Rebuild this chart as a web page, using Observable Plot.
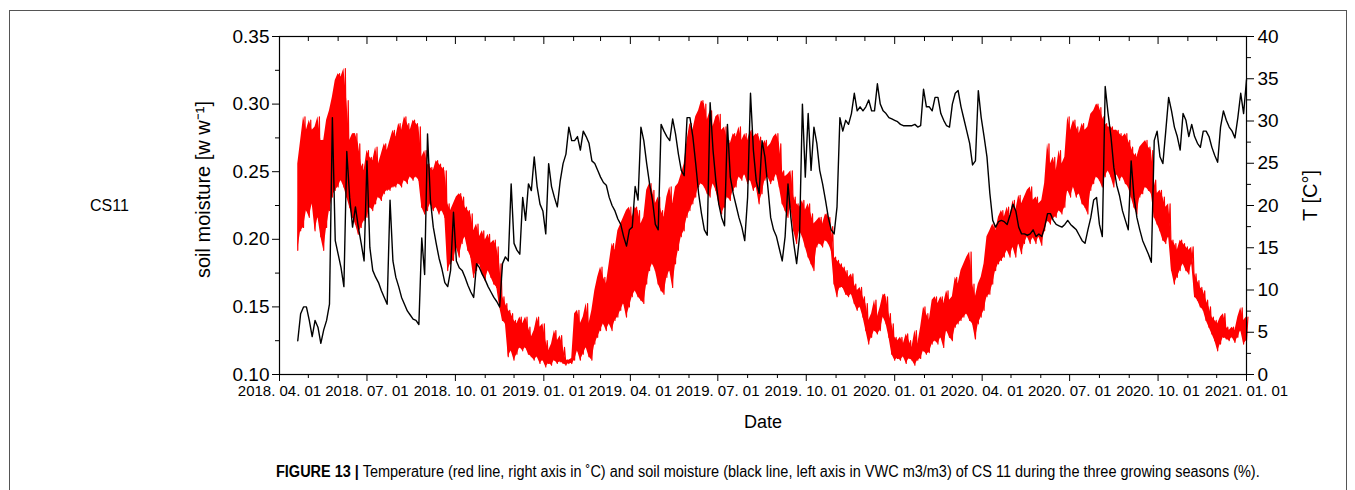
<!DOCTYPE html>
<html>
<head>
<meta charset="utf-8">
<script src="https://cdn.jsdelivr.net/npm/d3@7"></script>
<script src="https://cdn.jsdelivr.net/npm/@observablehq/plot@0.6"></script>
<style>
  body { margin: 0; background: #fff; }
  #fig { position: relative; width: 1355px; height: 490px; overflow: hidden; background: #fff;
         font-family: "Liberation Sans", Arial, sans-serif; color: #000; }
  #box { position: absolute; left: 9px; top: 10px; width: 1336px; height: 520px; border: 1px solid #555; }
  #chart { position: absolute; left: 0; top: 0; }
  #site { position: absolute; left: 90px; top: 197px; font-size: 16px; }
  #caption { position: absolute; left: 276px; top: 463px; white-space: nowrap;
             font-family: "Liberation Sans", Arial, sans-serif; font-size: 16px;
             transform: scaleX(0.905); transform-origin: 0 0; }
  #caption b { font-weight: bold; }
</style>
</head>
<body>
<div id="fig">
  <div id="box"></div>
  <div id="chart"></div>
  <div id="site">CS11</div>
  <div id="caption"><b>FIGURE 13 |</b> Temperature (red line, right axis in ˚C) and soil moisture (black line, left axis in VWC m3/m3) of CS 11 during the three growing seasons (%).</div>
</div>
<script>
// Series are sampled every 3 days starting 2018-04-20.
const seriesStart = "2018-04-20";
const stepDays = 3;

// Soil moisture [w w-1]
const moisture = [
  0.125,0.145,0.150,0.150,0.140,0.128,0.140,0.135,0.123,0.133,
  0.140,0.152,0.290,0.199,0.189,0.179,0.165,0.265,0.231,0.209,
  0.224,0.209,0.197,0.184,0.258,0.194,0.177,0.172,0.168,0.162,
  0.157,0.152,0.229,0.184,0.172,0.165,0.157,0.152,0.147,0.144,
  0.141,0.140,0.137,0.201,0.174,0.278,0.229,0.209,0.197,0.186,
  0.178,0.168,0.165,0.177,0.220,0.184,0.179,0.177,0.172,0.166,
  0.161,0.157,0.182,0.179,0.174,0.170,0.165,0.161,0.157,0.154,
  0.150,0.182,0.187,0.184,0.241,0.197,0.192,0.189,0.231,0.214,
  0.241,0.236,0.261,0.239,0.226,0.221,0.204,0.256,0.239,0.231,
  0.224,0.243,0.256,0.263,0.283,0.273,0.273,0.276,0.266,0.280,
  0.276,0.271,0.258,0.256,0.251,0.246,0.242,0.240,0.231,0.225,
  0.221,0.215,0.211,0.202,0.195,0.207,0.209,0.239,0.229,0.283,
  0.273,0.256,0.241,0.229,0.211,0.207,0.285,0.280,0.276,0.273,
  0.289,0.278,0.263,0.251,0.247,0.290,0.290,0.276,0.256,0.234,
  0.219,0.207,0.203,0.301,0.266,0.243,0.226,0.216,0.210,0.285,
  0.246,0.234,0.225,0.216,0.209,0.199,0.231,0.308,0.266,0.243,
  0.234,0.273,0.261,0.239,0.216,0.207,0.202,0.193,0.184,0.202,
  0.241,0.216,0.197,0.182,0.202,0.300,0.246,0.293,0.251,0.283,
  0.271,0.251,0.241,0.229,0.216,0.207,0.204,0.224,0.290,0.280,
  0.288,0.285,0.293,0.308,0.295,0.298,0.295,0.298,0.303,0.295,
  0.295,0.315,0.300,0.295,0.293,0.290,0.289,0.288,0.287,0.285,
  0.284,0.284,0.284,0.284,0.285,0.283,0.284,0.311,0.298,0.298,
  0.295,0.305,0.305,0.293,0.288,0.284,0.283,0.300,0.308,0.310,
  0.298,0.289,0.280,0.271,0.255,0.258,0.310,0.290,0.276,0.261,
  0.234,0.214,0.209,0.213,0.214,0.213,0.211,0.218,0.226,0.221,
  0.209,0.204,0.204,0.203,0.204,0.207,0.202,0.204,0.202,0.209,
  0.219,0.219,0.214,0.211,0.210,0.209,0.211,0.214,0.211,0.209,
  0.207,0.203,0.199,0.197,0.207,0.216,0.229,0.231,0.211,0.202,
  0.313,0.293,0.276,0.253,0.240,0.232,0.221,0.214,0.207,0.258,
  0.231,0.216,0.207,0.199,0.194,0.189,0.183,0.273,0.280,0.261,
  0.256,0.280,0.305,0.295,0.283,0.276,0.266,0.293,0.288,0.276,
  0.285,0.276,0.271,0.268,0.280,0.280,0.276,0.268,0.262,0.257,
  0.283,0.295,0.288,0.283,0.280,0.275,0.290,0.308,0.293,0.318
];

// Temperature [°C]: daily low and high within each 3-day step
const tempLow = [
  14.7,17.0,17.4,19.4,18.6,20.2,17.0,18.6,16.3,14.7,
  17.4,19.4,21.0,21.8,22.2,23.0,22.2,21.0,19.8,18.6,
  17.8,16.6,17.4,18.2,18.6,19.8,19.4,20.2,21.0,20.6,
  21.4,21.8,21.8,22.2,22.2,22.6,22.2,23.0,22.6,23.4,
  23.0,23.4,23.0,19.8,19.0,19.4,20.2,19.4,19.8,19.0,
  19.4,18.6,12.3,13.1,13.5,15.1,13.9,15.5,16.3,14.7,
  13.9,11.5,12.3,13.1,11.9,11.1,12.3,11.5,10.7,10.3,
  8.0,6.4,6.0,2.1,2.8,1.7,2.4,3.2,2.8,3.2,
  2.4,2.1,1.7,2.1,1.3,1.7,0.9,1.3,1.1,1.7,
  1.3,1.5,1.3,1.1,1.3,1.3,1.7,2.8,1.7,2.4,
  3.2,2.1,1.7,3.6,4.4,5.2,6.0,5.2,6.0,5.2,
  6.4,6.8,7.6,8.4,6.8,8.0,9.2,9.9,9.2,8.8,
  8.4,10.7,12.3,13.1,12.3,10.7,9.9,9.5,11.5,12.3,
  10.3,13.1,14.7,16.3,17.0,18.6,19.4,20.2,21.0,22.2,
  22.6,22.2,21.4,21.0,22.6,21.8,20.2,19.0,19.8,21.0,
  20.6,21.8,22.2,23.4,23.0,23.7,22.6,23.0,21.8,22.2,
  20.2,21.4,23.0,23.4,22.6,23.0,23.7,22.2,20.2,19.4,
  18.6,19.8,17.0,15.5,17.0,16.3,15.1,13.9,13.1,12.3,
  15.1,15.5,15.1,15.9,15.5,14.7,10.7,9.2,10.3,10.3,
  9.5,9.2,9.5,8.4,7.6,8.0,6.8,5.2,3.6,4.4,
  5.2,4.8,5.2,6.8,6.0,4.4,2.4,1.7,1.9,1.7,
  2.1,1.3,1.9,1.7,1.1,1.7,1.9,2.8,2.4,2.6,
  3.6,4.0,3.6,4.4,3.2,5.2,4.4,4.0,5.6,6.0,
  6.4,6.8,7.2,6.4,6.0,4.2,6.0,6.8,7.6,9.2,
  9.5,10.7,12.3,13.1,13.5,13.9,14.7,13.9,15.1,13.9,
  15.5,14.3,15.5,16.3,15.5,16.2,15.5,16.3,15.3,17.0,
  18.2,17.8,18.6,18.6,19.4,19.0,19.8,21.8,21.0,22.2,
  21.0,21.4,20.2,19.8,19.0,21.8,22.6,23.4,23.0,22.2,
  23.4,24.1,23.4,22.2,23.7,23.0,23.4,22.6,22.2,21.0,
  19.8,19.0,21.0,21.4,22.2,21.8,21.4,18.6,17.8,17.0,
  15.9,15.5,16.3,12.3,10.7,11.5,12.3,13.1,12.3,11.9,
  13.1,9.2,8.8,8.0,7.6,6.4,5.6,4.8,4.0,2.8,
  3.6,4.4,4.2,4.0,4.4,3.8,4.4,5.2,3.6,4.0
];
const tempHigh = [
  24.9,27.7,30.5,28.9,30.1,28.9,29.3,30.5,27.7,27.7,
  30.1,31.2,32.8,34.8,35.6,35.2,36.2,32.4,27.7,28.5,
  28.5,27.3,24.9,24.1,26.5,25.7,25.3,26.9,24.9,26.1,
  27.3,26.5,27.7,28.9,28.1,29.7,28.9,30.5,29.7,28.9,
  30.1,29.7,29.3,25.7,26.5,24.9,24.5,24.1,25.3,24.9,
  24.5,24.1,20.2,19.4,20.2,21.0,21.4,21.0,19.8,19.4,
  19.0,17.0,17.8,16.3,17.0,15.9,16.6,15.5,15.9,15.1,
  13.1,9.2,8.4,7.6,7.2,6.4,6.0,6.8,6.0,6.8,
  5.6,4.4,5.2,6.8,5.6,6.0,4.0,2.8,3.6,5.2,
  4.0,4.6,3.2,1.7,1.7,1.9,7.2,7.6,6.0,6.8,
  8.4,6.0,7.6,9.9,11.5,12.7,11.5,10.7,13.1,15.5,
  14.7,17.0,17.8,18.6,19.4,19.8,18.6,19.8,19.4,17.8,
  18.6,21.8,22.6,21.8,20.2,21.0,19.4,18.6,21.0,22.2,
  20.2,22.2,22.6,23.7,24.9,27.7,29.7,28.9,30.5,31.2,
  32.4,32.0,30.1,31.2,29.3,30.5,30.8,28.9,29.3,27.7,
  27.3,28.5,28.1,29.3,27.7,28.5,27.7,28.9,28.1,28.5,
  28.1,26.9,27.7,26.9,27.3,28.1,28.5,27.3,24.1,23.4,
  23.7,24.1,21.0,20.2,19.8,20.6,19.4,20.2,19.0,17.8,
  18.2,18.6,17.8,19.0,18.6,17.5,13.9,13.5,13.1,12.7,
  12.3,11.5,11.9,10.7,9.9,10.3,9.2,8.4,6.4,7.2,
  8.8,6.8,8.0,9.5,9.2,7.2,6.0,4.4,4.0,4.4,
  3.6,4.8,4.0,3.2,5.2,3.6,5.6,8.0,7.2,6.4,
  8.8,9.2,8.4,9.2,8.4,9.9,8.8,9.2,11.5,10.7,
  12.3,13.1,13.9,14.5,10.7,9.2,10.7,11.5,13.1,16.3,
  17.0,17.8,17.0,18.6,19.4,18.6,19.8,18.6,20.6,19.4,
  21.2,20.2,21.0,21.8,22.2,20.6,21.0,20.2,20.6,22.6,
  27.3,24.9,25.7,24.1,26.5,24.9,25.7,30.5,28.9,30.1,
  29.3,28.5,29.7,28.9,29.3,30.8,31.2,32.0,31.6,30.5,
  29.7,29.3,29.3,28.9,28.9,28.5,28.1,28.5,27.7,26.9,
  26.1,25.7,26.9,27.3,27.7,26.9,26.5,23.0,21.4,21.8,
  21.0,19.8,20.2,15.9,15.5,14.7,15.9,15.5,15.1,14.7,
  15.1,11.9,11.1,10.3,9.9,8.8,8.0,6.8,6.4,6.0,
  6.8,7.2,5.6,5.2,5.6,5.2,6.8,7.9,6.4,6.8
];

// Axis definitions
const dateDomain = ["2018-04-01", "2021-01-01"];
const moistureDomain = [0.10, 0.35];
const moistureTicks = [0.10, 0.15, 0.20, 0.25, 0.30, 0.35];
const moistureMinor = [0.125, 0.175, 0.225, 0.275, 0.325];
const tempDomain = [0, 40];
const tempTicks = [0, 5, 10, 15, 20, 25, 30, 35, 40];
const tempMinor = [2.5, 7.5, 12.5, 17.5, 22.5, 27.5, 32.5, 37.5];
const labels = {x: "Date", yLeft: "soil moisture [w w⁻¹]", yRight: "T [C°]"};

// Temperature shares the moisture y scale through a linear mapping
const tToM = d3.scaleLinear().domain(tempDomain).range(moistureDomain);

const start = d3.utcParse("%Y-%m-%d")(seriesStart);
const x0 = new Date(dateDomain[0]), x1 = new Date(dateDomain[1]);
const quarterTicks = d3.utcMonth.every(3).range(x0, d3.utcDay.offset(x1, 1));
const monthTicks = d3.utcMonth.range(x0, d3.utcDay.offset(x1, 1)).filter(d => d.getUTCMonth() % 3 !== 0);

const soil = moisture.map((m, i) => ({date: d3.utcDay.offset(start, i * stepDays), m}));
const n = Math.min(tempLow.length, tempHigh.length);
const tempBand = d3.range(n).map(i => ({date: d3.utcDay.offset(start, i * stepDays), lo: tempLow[i], hi: tempHigh[i]}));
// day-night swing drawn as a low/high zigzag
const tempSwing = tempBand.flatMap(d => [
  {date: d.date, t: d.lo},
  {date: d3.utcHour.offset(d.date, 36), t: d.hi}
]);

const blank = () => "";

const chart = Plot.plot({
  width: 1355,
  height: 440,
  marginLeft: 279,
  marginRight: 109,
  marginTop: 36,
  marginBottom: 66,
  style: {fontFamily: "'Liberation Sans', Arial, sans-serif", fontSize: "15px", color: "#000", background: "transparent"},
  x: {type: "utc", domain: [x0, x1]},
  y: {domain: moistureDomain},
  marks: [
    Plot.areaY(tempBand, {x: "date", y1: d => tToM(d.lo), y2: d => tToM(d.hi), fill: "#ff0000"}),
    Plot.line(tempSwing, {x: "date", y: d => tToM(d.t), stroke: "#ff0000", strokeWidth: 1.2}),
    Plot.line(soil, {x: "date", y: "m", stroke: "#000", strokeWidth: 1.4}),
    Plot.frame({stroke: "#000", strokeWidth: 1.2}),
    // bottom axis
    Plot.axisX({anchor: "bottom", ticks: quarterTicks, tickSize: 7, tickPadding: 4,
      tickFormat: d3.utcFormat("%Y. %m. %d"), fontSize: 15, label: null}),
    Plot.axisX({anchor: "bottom", ticks: monthTicks, tickSize: 4, tickFormat: blank, label: null}),
    // top axis: inward ticks
    Plot.axisX({anchor: "top", ticks: quarterTicks, tickSize: -7, tickFormat: blank, label: null}),
    Plot.axisX({anchor: "top", ticks: monthTicks, tickSize: -4, tickFormat: blank, label: null}),
    // left axis: soil moisture
    Plot.axisY({anchor: "left", ticks: moistureTicks, tickSize: 7, tickPadding: 3,
      tickFormat: d3.format(".2f"), fontSize: 19, label: null}),
    Plot.axisY({anchor: "left", ticks: moistureMinor, tickSize: 4, tickFormat: blank, label: null}),
    // right axis: temperature
    Plot.axisY({anchor: "right", ticks: tempTicks.map(tToM), tickSize: 7, tickPadding: 4,
      tickFormat: d => String(Math.round(tToM.invert(d))), fontSize: 19, label: null}),
    Plot.axisY({anchor: "right", ticks: tempMinor.map(tToM), tickSize: 4, tickFormat: blank, label: null}),
    // axis titles
    Plot.text([labels.x], {frameAnchor: "bottom", dy: 48, fontSize: 18, textAnchor: "middle", lineAnchor: "middle"}),
    Plot.text([labels.yLeft], {frameAnchor: "left", dx: -76, dy: -16, rotate: -90, fontSize: 20, textAnchor: "middle", lineAnchor: "middle"}),
    Plot.text([labels.yRight], {frameAnchor: "right", dx: 64, dy: -10, rotate: -90, fontSize: 20, textAnchor: "middle", lineAnchor: "middle"})
  ]
});
document.getElementById("chart").append(chart);
</script>
</body>
</html>
